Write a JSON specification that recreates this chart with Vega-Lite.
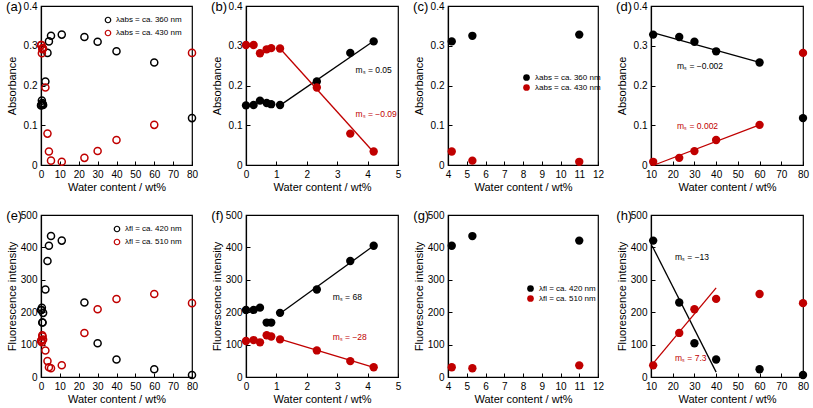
{
"$schema": "https://vega.github.io/schema/vega-lite/v6.json",
"padding": {"left": 5, "top": 0, "right": 2, "bottom": 0},
"datasets": {
"pts": [
{"g":"abs","s":"λabs = ca. 360 nm","w":0,"v":0.150},{"g":"abs","s":"λabs = ca. 360 nm","w":0.25,"v":0.151},{"g":"abs","s":"λabs = ca. 360 nm","w":0.46,"v":0.162},{"g":"abs","s":"λabs = ca. 360 nm","w":0.68,"v":0.156},{"g":"abs","s":"λabs = ca. 360 nm","w":0.83,"v":0.153},{"g":"abs","s":"λabs = ca. 360 nm","w":1.12,"v":0.151},{"g":"abs","s":"λabs = ca. 360 nm","w":2.33,"v":0.210},{"g":"abs","s":"λabs = ca. 360 nm","w":3.43,"v":0.282},{"g":"abs","s":"λabs = ca. 360 nm","w":4.2,"v":0.311},{"g":"abs","s":"λabs = ca. 360 nm","w":5.3,"v":0.325},{"g":"abs","s":"λabs = ca. 360 nm","w":11,"v":0.328},{"g":"abs","s":"λabs = ca. 360 nm","w":23,"v":0.322},{"g":"abs","s":"λabs = ca. 360 nm","w":30,"v":0.310},{"g":"abs","s":"λabs = ca. 360 nm","w":40,"v":0.286},{"g":"abs","s":"λabs = ca. 360 nm","w":60,"v":0.258},{"g":"abs","s":"λabs = ca. 360 nm","w":80,"v":0.118},
{"g":"abs","s":"λabs = ca. 430 nm","w":0,"v":0.302},{"g":"abs","s":"λabs = ca. 430 nm","w":0.25,"v":0.302},{"g":"abs","s":"λabs = ca. 430 nm","w":0.46,"v":0.281},{"g":"abs","s":"λabs = ca. 430 nm","w":0.68,"v":0.291},{"g":"abs","s":"λabs = ca. 430 nm","w":0.83,"v":0.294},{"g":"abs","s":"λabs = ca. 430 nm","w":1.12,"v":0.293},{"g":"abs","s":"λabs = ca. 430 nm","w":2.33,"v":0.195},{"g":"abs","s":"λabs = ca. 430 nm","w":3.43,"v":0.079},{"g":"abs","s":"λabs = ca. 430 nm","w":4.2,"v":0.034},{"g":"abs","s":"λabs = ca. 430 nm","w":5.3,"v":0.011},{"g":"abs","s":"λabs = ca. 430 nm","w":11,"v":0.008},{"g":"abs","s":"λabs = ca. 430 nm","w":23,"v":0.018},{"g":"abs","s":"λabs = ca. 430 nm","w":30,"v":0.035},{"g":"abs","s":"λabs = ca. 430 nm","w":40,"v":0.063},{"g":"abs","s":"λabs = ca. 430 nm","w":60,"v":0.101},{"g":"abs","s":"λabs = ca. 430 nm","w":80,"v":0.282},
{"g":"fl","s":"λfl = ca. 420 nm","w":0,"v":207},{"g":"fl","s":"λfl = ca. 420 nm","w":0.25,"v":207},{"g":"fl","s":"λfl = ca. 420 nm","w":0.46,"v":214},{"g":"fl","s":"λfl = ca. 420 nm","w":0.68,"v":168},{"g":"fl","s":"λfl = ca. 420 nm","w":0.83,"v":168},{"g":"fl","s":"λfl = ca. 420 nm","w":1.12,"v":198},{"g":"fl","s":"λfl = ca. 420 nm","w":2.33,"v":270},{"g":"fl","s":"λfl = ca. 420 nm","w":3.43,"v":358},{"g":"fl","s":"λfl = ca. 420 nm","w":4.2,"v":405},{"g":"fl","s":"λfl = ca. 420 nm","w":5.3,"v":435},{"g":"fl","s":"λfl = ca. 420 nm","w":11,"v":421},{"g":"fl","s":"λfl = ca. 420 nm","w":23,"v":230},{"g":"fl","s":"λfl = ca. 420 nm","w":30,"v":104},{"g":"fl","s":"λfl = ca. 420 nm","w":40,"v":54},{"g":"fl","s":"λfl = ca. 420 nm","w":60,"v":24},{"g":"fl","s":"λfl = ca. 420 nm","w":80,"v":6},
{"g":"fl","s":"λfl = ca. 510 nm","w":0,"v":111},{"g":"fl","s":"λfl = ca. 510 nm","w":0.25,"v":114},{"g":"fl","s":"λfl = ca. 510 nm","w":0.46,"v":107},{"g":"fl","s":"λfl = ca. 510 nm","w":0.68,"v":129},{"g":"fl","s":"λfl = ca. 510 nm","w":0.83,"v":125},{"g":"fl","s":"λfl = ca. 510 nm","w":1.12,"v":116},{"g":"fl","s":"λfl = ca. 510 nm","w":2.33,"v":82},{"g":"fl","s":"λfl = ca. 510 nm","w":3.43,"v":49},{"g":"fl","s":"λfl = ca. 510 nm","w":4.2,"v":30},{"g":"fl","s":"λfl = ca. 510 nm","w":5.3,"v":27},{"g":"fl","s":"λfl = ca. 510 nm","w":11,"v":36},{"g":"fl","s":"λfl = ca. 510 nm","w":23,"v":136},{"g":"fl","s":"λfl = ca. 510 nm","w":30,"v":209},{"g":"fl","s":"λfl = ca. 510 nm","w":40,"v":241},{"g":"fl","s":"λfl = ca. 510 nm","w":60,"v":256},{"g":"fl","s":"λfl = ca. 510 nm","w":80,"v":228}
],
"fit": [
{"p":"b","s":"λabs = ca. 360 nm","w":1.12,"v":0.150},{"p":"b","s":"λabs = ca. 360 nm","w":4.2,"v":0.312},
{"p":"b","s":"λabs = ca. 430 nm","w":1.12,"v":0.293},{"p":"b","s":"λabs = ca. 430 nm","w":4.2,"v":0.032},
{"p":"d","s":"λabs = ca. 360 nm","w":10,"v":0.334},{"p":"d","s":"λabs = ca. 360 nm","w":60,"v":0.258},
{"p":"d","s":"λabs = ca. 430 nm","w":11.5,"v":0.0},{"p":"d","s":"λabs = ca. 430 nm","w":60,"v":0.101},
{"p":"f","s":"λfl = ca. 420 nm","w":1.12,"v":196},{"p":"f","s":"λfl = ca. 420 nm","w":4.2,"v":405},
{"p":"f","s":"λfl = ca. 510 nm","w":1.12,"v":117},{"p":"f","s":"λfl = ca. 510 nm","w":4.2,"v":30},
{"p":"h","s":"λfl = ca. 420 nm","w":10.5,"v":405},{"p":"h","s":"λfl = ca. 420 nm","w":40,"v":15},
{"p":"h","s":"λfl = ca. 510 nm","w":10.5,"v":38},{"p":"h","s":"λfl = ca. 510 nm","w":40,"v":275}
],
"ann": [
{"p":"b","s":"λabs = ca. 360 nm","w":3.6,"v":0.240,"t":"mₛ = 0.05"},{"p":"b","s":"λabs = ca. 430 nm","w":3.6,"v":0.128,"t":"mₛ = −0.09"},
{"p":"d","s":"λabs = ca. 360 nm","w":22,"v":0.25,"t":"mₛ = −0.002"},{"p":"d","s":"λabs = ca. 430 nm","w":22,"v":0.098,"t":"mₛ = 0.002"},
{"p":"f","s":"λfl = ca. 420 nm","w":2.85,"v":247,"t":"mₛ = 68"},{"p":"f","s":"λfl = ca. 510 nm","w":2.85,"v":123,"t":"mₛ = −28"},
{"p":"h","s":"λfl = ca. 420 nm","w":21,"v":370,"t":"mₛ = −13"},{"p":"h","s":"λfl = ca. 510 nm","w":21,"v":59,"t":"mₛ = 7.3"}
]
},
"columns": 4,
"concat": [
{"width":151,"height":159,"title":"(a)","data":{"name":"pts"},"transform":[{"filter":"datum.g == 'abs'"}],
 "mark":{"type":"point","filled":false,"size":50,"strokeWidth":1.5,"opacity":1},
 "encoding":{
  "x":{"field":"w","type":"quantitative","scale":{"domain":[0,80]},"axis":{"values":[0,10,20,30,40,50,60,70,80],"title":"Water content / wt%"}},
  "y":{"field":"v","type":"quantitative","scale":{"domain":[0,0.4]},"axis":{"values":[0,0.1,0.2,0.3,0.4],"format":"~g","title":"Absorbance","titlePadding":6}},
  "color":{"field":"s","type":"nominal","scale":{"domain":["λabs = ca. 360 nm","λabs = ca. 430 nm"],"range":["#000000","#c00000"]},
   "legend":{"title":null,"orient":"top-right","offset":10,"symbolSize":30,"symbolStrokeWidth":1.2,"encode":{"labels":{"update":{"fill":{"signal":"indexof(datum.value,'360')>=0 ? '#000000' : '#c00000'"}}}}}}
 }},
{"width":152,"height":159,"title":"(b)",
 "encoding":{
  "x":{"field":"w","type":"quantitative","scale":{"domain":[0,5]},"axis":{"values":[0,1,2,3,4,5],"title":"Water content / wt%"}},
  "y":{"field":"v","type":"quantitative","scale":{"domain":[0,0.4]},"axis":{"values":[0,0.1,0.2,0.3,0.4],"format":"~g","title":"Absorbance","titlePadding":6}}
 },
 "layer":[
  {"data":{"name":"fit"},"transform":[{"filter":"datum.p == 'b'"}],"mark":{"type":"line","strokeWidth":1.3},
   "encoding":{"color":{"field":"s","type":"nominal","legend":null}}},
  {"data":{"name":"ann"},"transform":[{"filter":"datum.p == 'b'"}],"mark":{"type":"text","align":"left","baseline":"middle","fontSize":8.5},
   "encoding":{"text":{"field":"t"},"color":{"field":"s","type":"nominal","legend":null}}},
  {"data":{"name":"pts"},"transform":[{"filter":"datum.g == 'abs' && datum.w <= 4.2"}],"mark":{"type":"circle","size":70,"opacity":1},
   "encoding":{
    "color":{"field":"s","type":"nominal","scale":{"domain":["λabs = ca. 360 nm","λabs = ca. 430 nm"],"range":["#000000","#c00000"]},
     "legend":{"title":null,"orient":"top-right","offset":8,"symbolSize":300,"symbolType":"M-1,0L1,0M0.42,0A0.42,0.42,0,1,1,-0.42,0A0.42,0.42,0,1,1,0.42,0",
      "encode":{"labels":{"update":{"fill":{"signal":"indexof(datum.value,'360')>=0 ? '#000000' : '#c00000'"}}},
                "symbols":{"update":{"stroke":{"signal":"indexof(datum.value,'360')>=0 ? '#000000' : '#c00000'"},"fill":{"signal":"indexof(datum.value,'360')>=0 ? '#000000' : '#c00000'"},"strokeWidth":{"value":1.2}}}}}}
   }}
 ]},
{"width":150,"height":159,"title":"(c)","data":{"name":"pts"},"transform":[{"filter":"datum.g == 'abs' && datum.w >= 4.2 && datum.w <= 11"}],
 "mark":{"type":"circle","size":70,"opacity":1},
 "encoding":{
  "x":{"field":"w","type":"quantitative","scale":{"domain":[4,12]},"axis":{"values":[4,5,6,7,8,9,10,11,12],"title":"Water content / wt%"}},
  "y":{"field":"v","type":"quantitative","scale":{"domain":[0,0.4]},"axis":{"values":[0,0.1,0.2,0.3,0.4],"format":"~g","title":"Absorbance","titlePadding":6}},
  "color":{"field":"s","type":"nominal","scale":{"domain":["λabs = ca. 360 nm","λabs = ca. 430 nm"],"range":["#000000","#c00000"]},
   "legend":{"title":null,"orient":"none","legendX":74,"legendY":67,"symbolSize":45,"encode":{"labels":{"update":{"fill":{"signal":"indexof(datum.value,'360')>=0 ? '#000000' : '#c00000'"}}}}}}
 }},
{"width":152,"height":159,"title":"(d)",
 "encoding":{
  "x":{"field":"w","type":"quantitative","scale":{"domain":[10,80]},"axis":{"values":[10,20,30,40,50,60,70,80],"title":"Water content / wt%"}},
  "y":{"field":"v","type":"quantitative","scale":{"domain":[0,0.4]},"axis":{"values":[0,0.1,0.2,0.3,0.4],"format":"~g","title":"Absorbance","titlePadding":6}}
 },
 "layer":[
  {"data":{"name":"fit"},"transform":[{"filter":"datum.p == 'd'"}],"mark":{"type":"line","strokeWidth":1.3},
   "encoding":{"color":{"field":"s","type":"nominal","legend":null}}},
  {"data":{"name":"ann"},"transform":[{"filter":"datum.p == 'd'"}],"mark":{"type":"text","align":"left","baseline":"middle","fontSize":8.5},
   "encoding":{"text":{"field":"t"},"color":{"field":"s","type":"nominal","legend":null}}},
  {"data":{"name":"pts"},"transform":[{"filter":"datum.g == 'abs' && datum.w >= 11"}],"mark":{"type":"circle","size":70,"opacity":1},
   "encoding":{
    "color":{"field":"s","type":"nominal","scale":{"domain":["λabs = ca. 360 nm","λabs = ca. 430 nm"],"range":["#000000","#c00000"]},
     "legend":{"title":null,"orient":"top-right","offset":8,"symbolSize":300,"symbolType":"M-1,0L1,0M0.42,0A0.42,0.42,0,1,1,-0.42,0A0.42,0.42,0,1,1,0.42,0",
      "encode":{"labels":{"update":{"fill":{"signal":"indexof(datum.value,'360')>=0 ? '#000000' : '#c00000'"}}},
                "symbols":{"update":{"stroke":{"signal":"indexof(datum.value,'360')>=0 ? '#000000' : '#c00000'"},"fill":{"signal":"indexof(datum.value,'360')>=0 ? '#000000' : '#c00000'"},"strokeWidth":{"value":1.2}}}}}}
   }}
 ]},
{"width":151,"height":162,"title":"(e)","data":{"name":"pts"},"transform":[{"filter":"datum.g == 'fl'"}],
 "mark":{"type":"point","filled":false,"size":50,"strokeWidth":1.5,"opacity":1},
 "encoding":{
  "x":{"field":"w","type":"quantitative","scale":{"domain":[0,80]},"axis":{"values":[0,10,20,30,40,50,60,70,80],"title":"Water content / wt%"}},
  "y":{"field":"v","type":"quantitative","scale":{"domain":[0,500]},"axis":{"values":[0,100,200,300,400,500],"title":"Fluorescence intensity","titlePadding":3}},
  "color":{"field":"s","type":"nominal","scale":{"domain":["λfl = ca. 420 nm","λfl = ca. 510 nm"],"range":["#000000","#c00000"]},
   "legend":{"title":null,"orient":"top-right","offset":10,"symbolSize":30,"symbolStrokeWidth":1.2,"encode":{"labels":{"update":{"fill":{"signal":"indexof(datum.value,'420')>=0 ? '#000000' : '#c00000'"}}}}}}
 }},
{"width":152,"height":162,"title":"(f)",
 "encoding":{
  "x":{"field":"w","type":"quantitative","scale":{"domain":[0,5]},"axis":{"values":[0,1,2,3,4,5],"title":"Water content / wt%"}},
  "y":{"field":"v","type":"quantitative","scale":{"domain":[0,500]},"axis":{"values":[0,100,200,300,400,500],"title":"Fluorescence intensity","titlePadding":3}}
 },
 "layer":[
  {"data":{"name":"fit"},"transform":[{"filter":"datum.p == 'f'"}],"mark":{"type":"line","strokeWidth":1.3},
   "encoding":{"color":{"field":"s","type":"nominal","legend":null}}},
  {"data":{"name":"ann"},"transform":[{"filter":"datum.p == 'f'"}],"mark":{"type":"text","align":"left","baseline":"middle","fontSize":8.5},
   "encoding":{"text":{"field":"t"},"color":{"field":"s","type":"nominal","legend":null}}},
  {"data":{"name":"pts"},"transform":[{"filter":"datum.g == 'fl' && datum.w <= 4.2"}],"mark":{"type":"circle","size":70,"opacity":1},
   "encoding":{
    "color":{"field":"s","type":"nominal","scale":{"domain":["λfl = ca. 420 nm","λfl = ca. 510 nm"],"range":["#000000","#c00000"]},
     "legend":{"title":null,"orient":"top-left","offset":8,"symbolSize":300,"symbolType":"M-1,0L1,0M0.42,0A0.42,0.42,0,1,1,-0.42,0A0.42,0.42,0,1,1,0.42,0",
      "encode":{"labels":{"update":{"fill":{"signal":"indexof(datum.value,'420')>=0 ? '#000000' : '#c00000'"}}},
                "symbols":{"update":{"stroke":{"signal":"indexof(datum.value,'420')>=0 ? '#000000' : '#c00000'"},"fill":{"signal":"indexof(datum.value,'420')>=0 ? '#000000' : '#c00000'"},"strokeWidth":{"value":1.2}}}}}}
   }}
 ]},
{"width":150,"height":162,"title":"(g)","data":{"name":"pts"},"transform":[{"filter":"datum.g == 'fl' && datum.w >= 4.2 && datum.w <= 11"}],
 "mark":{"type":"circle","size":70,"opacity":1},
 "encoding":{
  "x":{"field":"w","type":"quantitative","scale":{"domain":[4,12]},"axis":{"values":[4,5,6,7,8,9,10,11,12],"title":"Water content / wt%"}},
  "y":{"field":"v","type":"quantitative","scale":{"domain":[0,500]},"axis":{"values":[0,100,200,300,400,500],"title":"Fluorescence intensity","titlePadding":3}},
  "color":{"field":"s","type":"nominal","scale":{"domain":["λfl = ca. 420 nm","λfl = ca. 510 nm"],"range":["#000000","#c00000"]},
   "legend":{"title":null,"orient":"none","legendX":78,"legendY":69,"symbolSize":45,"encode":{"labels":{"update":{"fill":{"signal":"indexof(datum.value,'420')>=0 ? '#000000' : '#c00000'"}}}}}}
 }},
{"width":152,"height":162,"title":"(h)",
 "encoding":{
  "x":{"field":"w","type":"quantitative","scale":{"domain":[10,80]},"axis":{"values":[10,20,30,40,50,60,70,80],"title":"Water content / wt%"}},
  "y":{"field":"v","type":"quantitative","scale":{"domain":[0,500]},"axis":{"values":[0,100,200,300,400,500],"title":"Fluorescence intensity","titlePadding":3}}
 },
 "layer":[
  {"data":{"name":"fit"},"transform":[{"filter":"datum.p == 'h'"}],"mark":{"type":"line","strokeWidth":1.3},
   "encoding":{"color":{"field":"s","type":"nominal","legend":null}}},
  {"data":{"name":"ann"},"transform":[{"filter":"datum.p == 'h'"}],"mark":{"type":"text","align":"left","baseline":"middle","fontSize":8.5},
   "encoding":{"text":{"field":"t"},"color":{"field":"s","type":"nominal","legend":null}}},
  {"data":{"name":"pts"},"transform":[{"filter":"datum.g == 'fl' && datum.w >= 11"}],"mark":{"type":"circle","size":70,"opacity":1},
   "encoding":{
    "color":{"field":"s","type":"nominal","scale":{"domain":["λfl = ca. 420 nm","λfl = ca. 510 nm"],"range":["#000000","#c00000"]},
     "legend":{"title":null,"orient":"top-right","offset":8,"symbolSize":300,"symbolType":"M-1,0L1,0M0.42,0A0.42,0.42,0,1,1,-0.42,0A0.42,0.42,0,1,1,0.42,0",
      "encode":{"labels":{"update":{"fill":{"signal":"indexof(datum.value,'420')>=0 ? '#000000' : '#c00000'"}}},
                "symbols":{"update":{"stroke":{"signal":"indexof(datum.value,'420')>=0 ? '#000000' : '#c00000'"},"fill":{"signal":"indexof(datum.value,'420')>=0 ? '#000000' : '#c00000'"},"strokeWidth":{"value":1.2}}}}}}
   }}
 ]}
],
"resolve":{"scale":{"color":"independent","x":"independent","y":"independent"},"legend":{"color":"independent"}},
"spacing": {"row": 16, "column": 10},
"config": {
 "font": "Liberation Sans",
 "background": "white",
 "view": {"stroke": "#000000", "strokeWidth": 1.2},
 "axis": {"grid": false, "domainColor": "#000000", "domainWidth": 1.2, "tickColor": "#000000", "tickSize": -4, "labelPadding": 8, "labelColor": "#000000", "titleColor": "#000000", "labelFontSize": 10, "titleFontSize": 11, "titleFontWeight": "normal", "labelFont": "Liberation Sans", "titleFont": "Liberation Sans", "labelFlush": false, "labelOverlap": false},
 "axisX": {"titlePadding": 2},
 "title": {"fontSize": 13, "fontWeight": "normal", "anchor": "start", "frame": "bounds", "offset": -13, "font": "Liberation Sans", "color": "#000000"},
 "legend": {"labelFontSize": 8, "labelLimit": 200, "rowPadding": 1, "padding": 0, "labelOffset": 4, "labelFont": "Liberation Sans"}
}
}
